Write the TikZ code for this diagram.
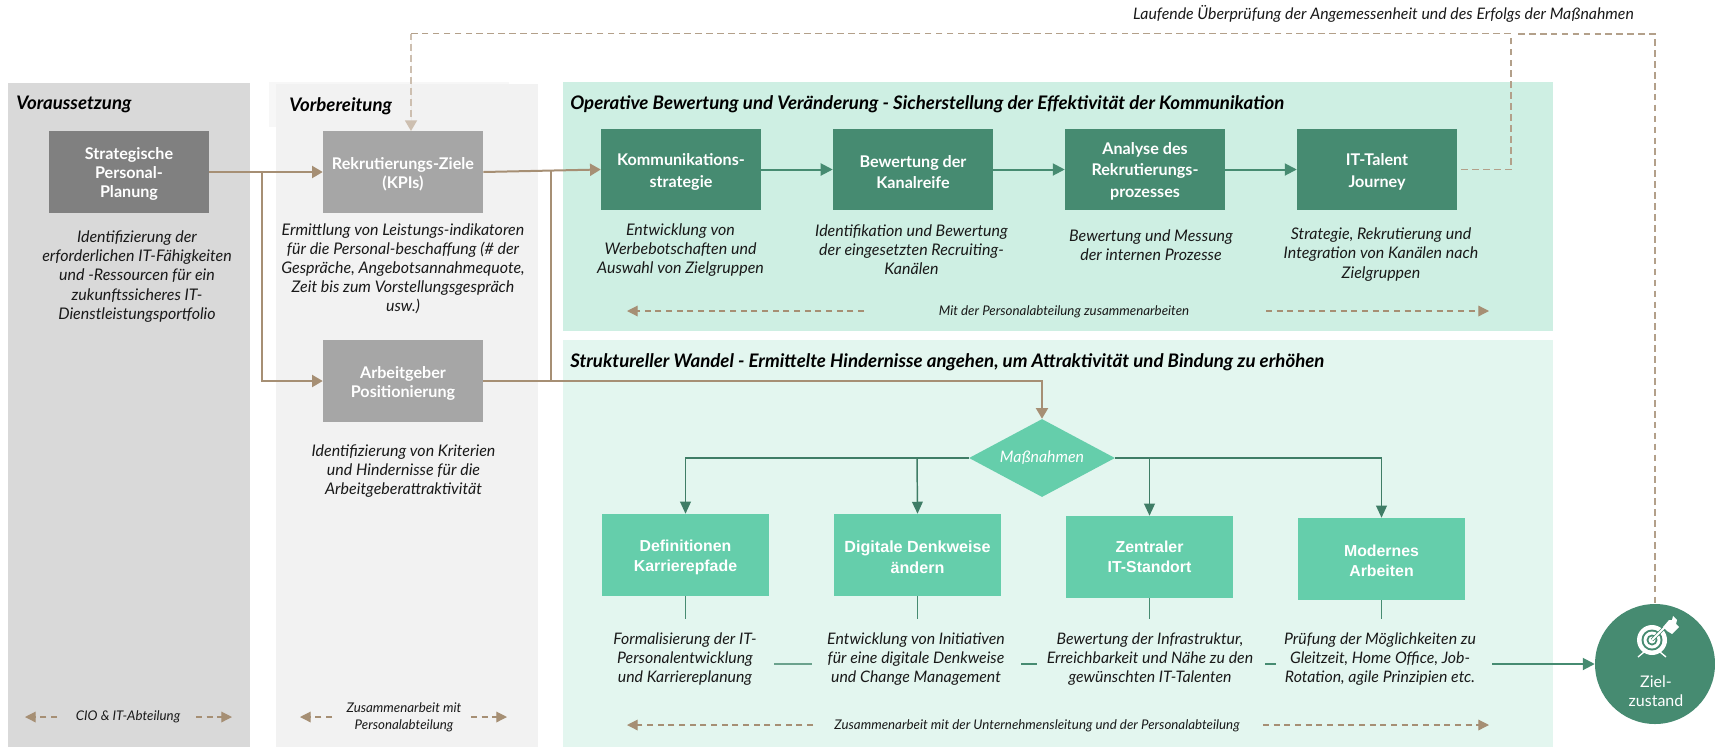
\documentclass[tikz,border=0pt]{standalone}
\usepackage{fontspec}
\setmainfont{Lato}
\newfontfamily\libsans{Liberation Sans}
\usetikzlibrary{arrows.meta,shapes.geometric}
\definecolor{tanline}{HTML}{A68F74}
\definecolor{tandash}{HTML}{B3A08A}
\definecolor{tanpale}{HTML}{CDBFB0}
\definecolor{dgreen}{HTML}{468B71}
\definecolor{mgreen}{HTML}{65CEAB}
\definecolor{paneA}{HTML}{D9D9D9}
\definecolor{paneB}{HTML}{F2F2F2}
\definecolor{paneBb}{HTML}{F7F7F7}
\definecolor{paneC}{HTML}{CEEFE3}
\definecolor{paneD}{HTML}{E3F6EF}
\newcommand{\toppad}[1]{\rule{0pt}{#1pt}}
\tikzset{
  basebox/.style={rectangle,inner sep=0pt,minimum width=120pt,minimum height=61.5pt,text=white,align=center,
     font=\fontsize{12.1}{14.5}\selectfont\bfseries},
  greybox/.style={basebox,fill=#1},
  darkbox/.style={basebox,fill=dgreen,minimum height=61pt,font=\fontsize{12.1}{16}\selectfont\bfseries},
  lightbox/.style={basebox,fill=mgreen,minimum width=125pt,font=\libsans\fontsize{11.9}{15}\selectfont\bfseries},
  desc/.style={inner sep=0pt,align=center,text=black!90,font=\fontsize{12}{14.3}\selectfont\itshape},
  descb/.style={desc,font=\fontsize{11.9}{14.3}\selectfont\itshape},
  small/.style={inner sep=0pt,align=center,text=black!90,font=\fontsize{10}{12.6}\selectfont\itshape},
  head/.style={inner sep=0pt,anchor=west,text=black,font=\fontsize{14}{15}\selectfont\bfseries\itshape},
  tanarrow/.style={draw=tanline,line width=1.5pt,-{Triangle[length=8pt,width=9pt]}},
  tanplain/.style={draw=tanline,line width=1.5pt},
  grarrow/.style={draw=dgreen,line width=1.5pt,-{Triangle[length=9pt,width=9pt]}},
  grthin/.style={draw=dgreen,line width=1pt},
  grarrowthin/.style={draw=dgreen!90!black,line width=1.1pt,-{Triangle[length=9pt,width=8pt]}},
  feedback/.style={draw=tandash,line width=1.3pt,dash pattern=on 5pt off 3.2pt},
  collab/.style={draw=tanline,line width=0.9pt,dash pattern=on 4.5pt off 3.5pt,-{Triangle[length=8pt,width=8pt]}},
}
\begin{document}
\begin{tikzpicture}[x=0.75pt,y=-0.75pt]
\useasboundingbox (0,0) rectangle (1715,747);
% panels
\fill[paneA] (8,83) rectangle (250,747);
\fill[paneBb] (269,82) rectangle (509,127);
\fill[paneB] (276,84) rectangle (538,747);
\fill[paneC] (563,82) rectangle (1553,331);
\fill[paneD] (563,340) rectangle (1553,747);
% heads
\node[head] (h1) at (16,104) {Voraussetzung};
\node[head] (h2) at (289,106) {Vorbereitung};
\node[head] (h3) at (570,104) {Operative Bewertung und Veränderung - Sicherstellung der Effektivität der Kommunikation};
\node[head] (h4) at (570,362) {Struktureller Wandel - Ermittelte Hindernisse angehen, um Attraktivität und Bindung zu erhöhen};
\node[desc,font=\fontsize{11.9}{14.3}\selectfont\itshape,anchor=east] (top) at (1634,14) {Laufende Überprüfung der Angemessenheit und des Erfolgs der Maßnahmen};
% grey boxes
\node[greybox=black!50] (st) at (129,172) {\toppad{12}Strategische\\Personal-\\Planung};
\node[greybox=black!35] (kpi) at (403,172) {\toppad{12.5}Rekrutierungs-Ziele\\(KPIs)};
\node[greybox=black!35] (ag) at (403,381) {\toppad{12.5}Arbeitgeber\\Positionierung};
\node[desc] (dst) at (137,276.5) {Identifizierung der\\erforderlichen IT-Fähigkeiten\\und -Ressourcen für ein\\zukunftssicheres IT-\\Dienstleistungsportfolio};
\node[desc] (dkpi) at (403,269) {Ermittlung von Leistungs-indikatoren\\für die Personal-beschaffung (\# der\\Gespräche, Angebotsannahmequote,\\Zeit bis zum Vorstellungsgespräch\\usw.)};
\node[desc] (dag) at (403.5,471) {Identifizierung von Kriterien\\und Hindernisse für die\\Arbeitgeberattraktivität};
% dark green boxes
\node[darkbox] (k1) at (681,169.5) {\toppad{12.5}Kommunikations-\\strategie};
\node[darkbox] (k2) at (913,169.5) {\toppad{12.5}Bewertung der\\Kanalreife};
\node[darkbox] (k3) at (1145,169.5) {\toppad{11.5}Analyse des\\Rekrutierungs-\\prozesses};
\node[darkbox] (k4) at (1377,169.5) {\toppad{12.5}IT-Talent\\Journey};
\node[desc] (dk1) at (680.5,250) {Entwicklung von\\Werbebotschaften und\\Auswahl von Zielgruppen};
\node[desc] (dk2) at (911.5,250) {Identifikation und Bewertung\\der eingesetzten Recruiting-\\Kanälen};
\node[desc] (dk3) at (1151,245.5) {Bewertung und Messung\\der internen Prozesse};
\node[desc] (dk4) at (1381,254.5) {Strategie, Rekrutierung und\\Integration von Kanälen nach\\Zielgruppen};
% diamond
\node[diamond,fill=mgreen,inner sep=0pt,aspect=1.87,minimum width=109.5pt,minimum height=58.5pt,text=white,
  font=\fontsize{11.9}{14}\selectfont\itshape] (dia) at (1042,458) {Maßnahmen};
% light green boxes
\node[lightbox] (m1) at (685.5,555) {\toppad{12}Definitionen\\Karrierepfade};
\node[lightbox,font=\libsans\fontsize{12.1}{16}\selectfont\bfseries] (m2) at (917.5,555) {\toppad{12}Digitale Denkweise\\ändern};
\node[lightbox] (m3) at (1149.5,557) {Zentraler\\IT-Standort};
\node[lightbox] (m4) at (1381.5,559) {\toppad{11}Modernes\\Arbeiten};
\node[descb] (dm1) at (685,659) {Formalisierung der IT-\\Personalentwicklung\\und Karriereplanung};
\node[descb] (dm2) at (916,659) {Entwicklung von Initiativen\\für eine digitale Denkweise\\und Change Management};
\node[descb] (dm3) at (1150,659) {Bewertung der Infrastruktur,\\Erreichbarkeit und Nähe zu den\\gewünschten IT-Talenten};
\node[descb] (dm4) at (1380,659) {Prüfung der Möglichkeiten zu\\Gleitzeit, Home Office, Job-\\Rotation, agile Prinzipien etc.};
% goal
\node[circle,fill=dgreen,inner sep=0pt,minimum size=90pt] (goal) at (1655,664) {};
\node[inner sep=0pt,align=center,text=white,font=\fontsize{12}{14.2}\selectfont] (goaltext) at (1656,691) {Ziel-\\zustand};
% icon
\begin{scope}[shift={(1652,640)}]
  \draw[white,line width=1pt] (-8,12) -- (-14,17) (8,12) -- (14,17);
  \fill[white] (0,0) circle[radius=15];
  \fill[dgreen] (0,0) circle[radius=10.5];
  \fill[white] (0,0) circle[radius=8.5];
  \fill[dgreen] (0,0) circle[radius=5.5];
  \fill[white] (0,0) circle[radius=3.5];
  \draw[dgreen,line width=2.6pt] (0,0) -- (14,-14);
  \draw[white,line width=1.4pt] (0,0) -- (14,-14);
  \fill[white] (11,-13) -- (17,-20) -- (20,-20) -- (21,-24) -- (25,-20) -- (24,-16) -- (27,-13) -- (20,-6) -- (15,-9) -- cycle;
\end{scope}
% coordinates
\coordinate (b1) at (262,172);
\coordinate (b2) at (551,381);
\coordinate (b3) at (551,171);
\coordinate (fbA) at (1511,169.5);
\coordinate (fbB) at (1511,33.5);
\coordinate (fbC) at (411,33.5);
\coordinate (fbD) at (1518,34);
\coordinate (fbE) at (1655,34);
\coordinate (kpiTop) at (411,131);
\coordinate (d2t) at (917,457.5);
\coordinate (d3t) at (1149.5,457.5);
% brown connectors
\draw[tanarrow] (st.east) -- (kpi.west);
\draw[tanarrow] (b1) |- (ag.west);
\draw[tanarrow] (kpi.east) -- (k1.west);
\draw[tanplain] (b2) -- (b3);
\draw[tanarrow] (ag.east) -| (dia.north);
% dark arrows
\draw[grarrow] (k1.east) -- (k2.west);
\draw[grarrow] (k2.east) -- (k3.west);
\draw[grarrow] (k3.east) -- (k4.west);
% feedback
\draw[feedback] ([xshift=3pt]k4.east) -- (fbA) -- (fbB) -- (fbC);
\draw[feedback,draw=tanpale,fill=tanpale,-{Triangle[length=8pt,width=9pt]}] (fbC) -- (kpiTop);
\draw[feedback] (fbD) -- (fbE) -- (goal.north);
% diamond connectors
\draw[grarrowthin] (dia.west) -| (m1.north);
\draw[grarrowthin] (dia.east) -| (m4.north);
\draw[grarrowthin] (d2t) -- (m2.north);
\draw[grarrowthin] (d3t) -- (m3.north);
% stubs
\coordinate (s1) at (685.5,619); \coordinate (s2) at (917.5,619);
\coordinate (s3) at (1149.5,619); \coordinate (s4) at (1381.5,619);
\draw[grthin] (m1.south) -- (s1);
\draw[grthin] (m2.south) -- (s2);
\draw[grthin] (m3.south) -- (s3);
\draw[grthin] (m4.south) -- (s4);
% result line
\coordinate (r1a) at (774,664); \coordinate (r1b) at (812,664);
\coordinate (r2a) at (1021,664); \coordinate (r2b) at (1037,664);
\coordinate (r3a) at (1265,664); \coordinate (r3b) at (1276,664);
\coordinate (r4a) at (1492,664);
\draw[draw=dgreen!80,line width=1.4pt] (r1a) -- (r1b);
\draw[draw=dgreen,line width=1.4pt] (r2a) -- (r2b);
\draw[draw=dgreen,line width=1.4pt] (r3a) -- (r3b);
\draw[grarrow] (r4a) -- (goal.west);
% collaboration rows
\node[small] (c1) at (128,717) {CIO \& IT-Abteilung};
\coordinate (c1la) at (57,717); \coordinate (c1lb) at (25,717);
\coordinate (c1ra) at (196,717); \coordinate (c1rb) at (232,717);
\draw[collab] (c1la) -- (c1lb);
\draw[collab] (c1ra) -- (c1rb);
\node[small,font=\fontsize{10}{12.4}\selectfont\itshape] (c2) at (404,717.5) {Zusammenarbeit mit\\Personalabteilung};
\coordinate (c2la) at (332,717); \coordinate (c2lb) at (300,717);
\coordinate (c2ra) at (471,717); \coordinate (c2rb) at (507,717);
\draw[collab] (c2la) -- (c2lb);
\draw[collab] (c2ra) -- (c2rb);
\node[small] (c3) at (1064,311.5) {Mit der Personalabteilung zusammenarbeiten};
\coordinate (c3la) at (864,311); \coordinate (c3lb) at (627,311);
\coordinate (c3ra) at (1266,311); \coordinate (c3rb) at (1489,311);
\draw[collab] (c3la) -- (c3lb);
\draw[collab] (c3ra) -- (c3rb);
\node[small] (c4) at (1037,725.5) {Zusammenarbeit mit der Unternehmensleitung und der Personalabteilung};
\coordinate (c4la) at (813,725); \coordinate (c4lb) at (627,725);
\coordinate (c4ra) at (1263,725); \coordinate (c4rb) at (1489,725);
\draw[collab] (c4la) -- (c4lb);
\draw[collab] (c4ra) -- (c4rb);
\end{tikzpicture}
\end{document}
